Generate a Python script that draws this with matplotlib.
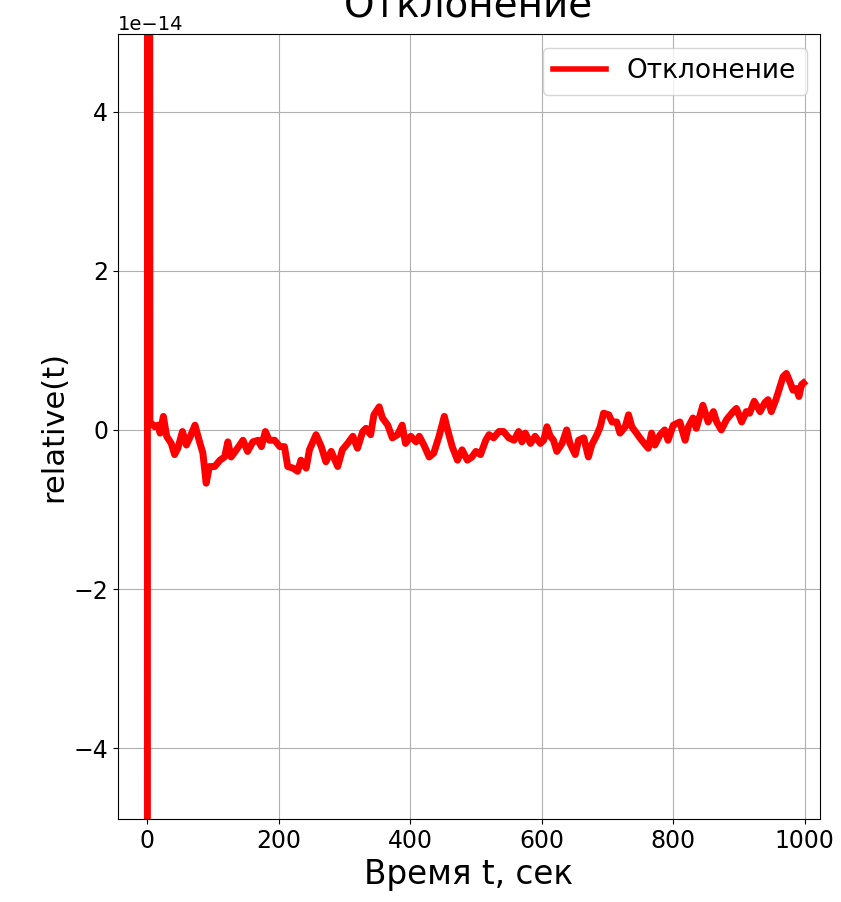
import numpy as np
import matplotlib.pyplot as plt

# --- DATA (relative deviation, units of 1e-14) ---
t = [0, 1.5, 4.5, 12, 17, 20, 25, 30, 37, 42, 47, 54, 60, 65, 73, 80, 85, 90, 95,
     103, 111, 118, 123, 128, 136, 146, 153, 161, 169, 174, 180, 186, 194, 202,
     209, 214, 222, 229, 234, 242, 247, 257, 265, 272, 280, 290, 297, 305, 313,
     320, 328, 333, 340, 345, 353, 358, 366, 373, 381, 388, 393, 401, 409, 414,
     421, 429, 436, 444, 452, 457, 464, 472, 479, 487, 494, 500, 507, 515, 520,
     527, 535, 542, 550, 558, 565, 570, 575, 583, 590, 598, 603, 608, 613, 618,
     623, 631, 638, 643, 651, 656, 664, 671, 676, 684, 689, 694, 702, 707, 714,
     719, 727, 732, 737, 744, 752, 762, 767, 772, 780, 787, 792, 800, 810, 818,
     823, 830, 835, 845, 853, 861, 866, 873, 881, 891, 896, 904, 911, 916, 923,
     932, 939, 944, 949, 956, 962, 967, 972, 977, 982, 987, 991, 995, 998]
relative = [-60, 60, 0.10, 0.04, 0.06, -0.04, 0.17, -0.08, -0.17, -0.31, -0.23,
            -0.02, -0.19, -0.10, 0.06, -0.15, -0.29, -0.67, -0.46, -0.46, -0.38,
            -0.34, -0.15, -0.34, -0.25, -0.13, -0.27, -0.15, -0.13, -0.21, -0.02,
            -0.13, -0.13, -0.21, -0.21, -0.46, -0.48, -0.52, -0.38, -0.48, -0.25,
            -0.06, -0.21, -0.40, -0.27, -0.46, -0.25, -0.17, -0.08, -0.23, -0.02,
            0.02, -0.06, 0.19, 0.29, 0.15, 0.06, -0.10, -0.06, 0.06, -0.17, -0.08,
            -0.15, -0.08, -0.19, -0.34, -0.29, -0.08, 0.17, 0.0, -0.21, -0.38,
            -0.25, -0.38, -0.34, -0.27, -0.31, -0.13, -0.06, -0.10, -0.02, -0.02,
            -0.10, -0.13, -0.02, -0.15, -0.04, -0.17, -0.08, -0.17, -0.13, 0.04,
            -0.08, -0.13, -0.27, -0.17, 0.0, -0.17, -0.31, -0.13, -0.10, -0.34,
            -0.19, -0.06, 0.04, 0.21, 0.19, 0.10, 0.10, -0.04, 0.04, 0.19, 0.04,
            -0.04, -0.13, -0.23, -0.04, -0.19, -0.06, 0.0, -0.13, 0.06, 0.10,
            -0.13, 0.04, 0.15, 0.02, 0.31, 0.10, 0.23, 0.10, 0.0, 0.13, 0.23, 0.27,
            0.10, 0.23, 0.21, 0.36, 0.23, 0.34, 0.38, 0.23, 0.38, 0.54, 0.67, 0.71,
            0.61, 0.50, 0.52, 0.42, 0.57, 0.59]

t = np.array(t)
relative = np.array(relative) * 1e-14

fig = plt.figure(figsize=(8.41, 9.02), dpi=100)
ax = fig.add_axes([0.1403, 0.092, 0.8347, 0.8698])

ax.plot(t, relative, color='red', linewidth=5, label='Отклонение')

ax.set_xlim(-44, 1023)
ax.set_ylim(-4.89e-14, 4.97e-14)
ax.set_xticks([0, 200, 400, 600, 800, 1000])
ax.set_yticks([-4e-14, -2e-14, 0, 2e-14, 4e-14])
ax.tick_params(labelsize=17)
ax.yaxis.get_offset_text().set_fontsize(14)

ax.set_title('Отклонение', fontsize=28, pad=12)
ax.set_xlabel('Время t, сек', fontsize=23.5)
ax.set_ylabel('relative(t)', fontsize=22)
ax.grid(True)
leg = ax.legend(loc='upper right', fontsize=19)
# thinner line in the legend than in the plot
leg.get_lines()[0].set_linewidth(4)

fig.savefig('out.png', dpi=100)
